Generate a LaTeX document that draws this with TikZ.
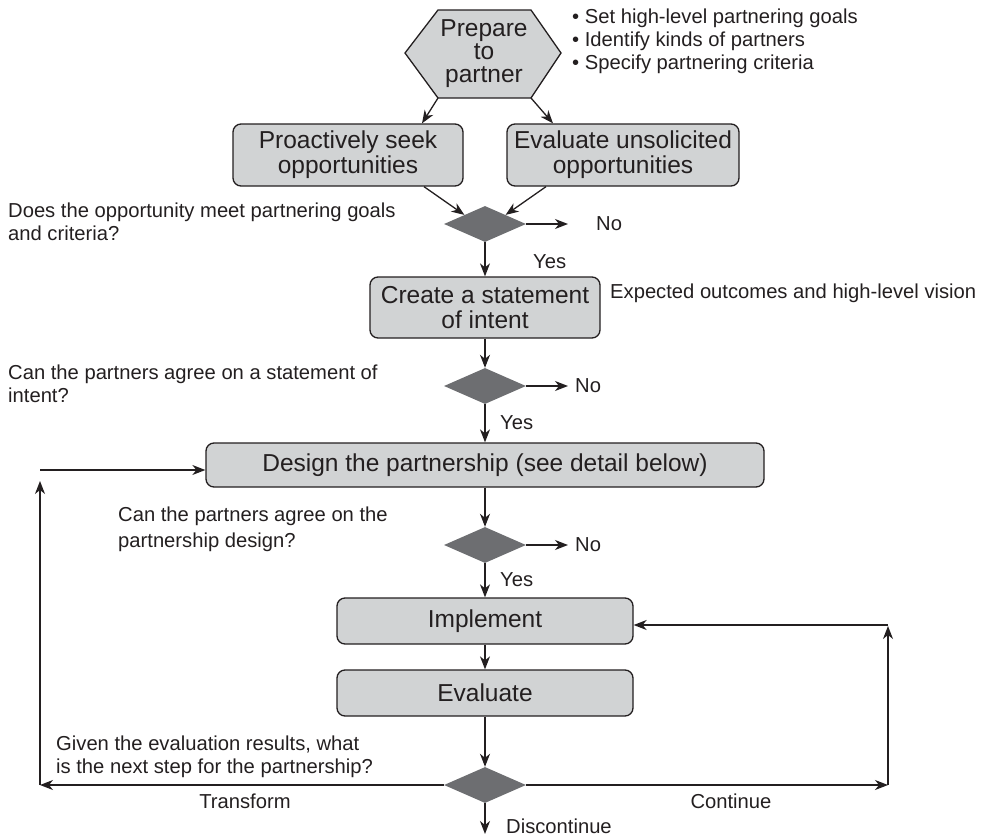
\documentclass[tikz,border=0pt]{standalone}
\usepackage{fontspec}
\setmainfont{Liberation Sans}
\usetikzlibrary{shapes.geometric,arrows.meta}
\definecolor{boxfill}{HTML}{D1D3D4}
\definecolor{dfill}{HTML}{6D6E71}
\definecolor{ink}{HTML}{231F20}
\tikzset{
  procbox/.style={draw=ink, line width=1.3pt, fill=boxfill, rounded corners=8pt, inner sep=0pt, align=center, text=ink, font=\fontsize{24.5}{25}\selectfont},
  decis/.style={diamond, fill=dfill, draw=none, inner sep=0pt, minimum width=82pt, minimum height=36pt},
  note/.style={text=ink, align=left, inner sep=0pt, font=\fontsize{20.2}{23}\selectfont},
  arr/.style={draw=ink, line width=1.3pt, -{Stealth[length=13pt,width=10pt,inset=4pt]}},
  ln/.style={draw=ink, line width=1.3pt}
}
\begin{document}
\begin{tikzpicture}[x=1pt,y=-1pt]
\useasboundingbox (0,0) rectangle (991,838);
% hexagon
\coordinate (h1) at (438,10);
\coordinate (h2) at (531,10);
\coordinate (h3) at (561,53);
\coordinate (h4) at (531,98);
\coordinate (h5) at (438,98);
\coordinate (h6) at (405,53);
\draw[draw=ink, line width=1.3pt, fill=boxfill] (h1) -- (h2) -- (h3) -- (h4) -- (h5) -- (h6) -- cycle;
\node[text=ink, align=center, inner sep=0pt, font=\fontsize{24.5}{23}\selectfont] (prep) at (484,54) {Prepare\\to\\partner};
\node[note, anchor=west] (bul) at (572,41) {• Set high-level partnering goals\\• Identify kinds of partners\\• Specify partnering criteria};

\node[procbox, minimum width=230pt, minimum height=62pt] (b1) at (348,155) {Proactively seek\\opportunities};
\node[procbox, minimum width=232pt, minimum height=62pt] (b2) at (623,155) {Evaluate unsolicited\\opportunities};
\draw[arr] (h5) -- ([xshift=74]b1.north);
\draw[arr] (h4) -- ([xshift=-70]b2.north);

\node[decis] (d1) at (485,224) {};
\draw[arr] ([xshift=76]b1.south) -- (d1.north west);
\draw[arr] ([xshift=-77]b2.south) -- (d1.north east);
\coordinate (n1) at (568,224);
\draw[arr] (d1.east) -- (n1);
\node[note, anchor=west] (no1) at (596,224) {No};
\node[note, anchor=west] (q1) at (8,221.5) {Does the opportunity meet partnering goals\\and criteria?};

\node[procbox, minimum width=230pt, minimum height=61pt] (b3) at (485,307.5) {Create a statement\\of intent};
\draw[arr] (d1.south) -- (b3.north);
\node[note, anchor=west] (y1) at (533,262) {Yes};
\node[note, anchor=west] (exp) at (610,293) {Expected outcomes and high-level vision};

\node[decis] (d2) at (485,386) {};
\draw[arr] (b3.south) -- (d2.north);
\coordinate (n2) at (568,386);
\draw[arr] (d2.east) -- (n2);
\node[note, anchor=west] (no2) at (575,386) {No};
\node[note, anchor=west] (q2) at (8,383.5) {Can the partners agree on a statement of\\intent?};

\node[procbox, minimum width=558pt, minimum height=44pt] (b4) at (485,465) {Design the partnership (see detail below)};
\draw[arr] (d2.south) -- (b4.north);
\node[note, anchor=west] (y2) at (500,423) {Yes};

\node[decis] (d3) at (485,545) {};
\draw[arr] (b4.south) -- (d3.north);
\coordinate (n3) at (568,545);
\draw[arr] (d3.east) -- (n3);
\node[note, anchor=west] (no3) at (575,545) {No};
\node[note, anchor=west, font=\fontsize{20.2}{26}\selectfont] (q3) at (118,529) {Can the partners agree on the\\partnership design?};

\node[procbox, minimum width=296pt, minimum height=46pt] (b5) at (485,621) {Implement};
\draw[arr] (d3.south) -- (b5.north);
\node[note, anchor=west] (y3) at (500,580) {Yes};

\node[procbox, minimum width=296pt, minimum height=46pt] (b6) at (485,693) {Evaluate};
\draw[arr] (b5.south) -- (b6.north);

\node[decis] (d4) at (485,785) {};
\draw[arr] (b6.south) -- (d4.north);
\node[note, anchor=west] (q4) at (56,756.5) {Given the evaluation results, what\\is the next step for the partnership?};

% transform loop
\coordinate (tl) at (40,785);
\coordinate (tu) at (40,481);
\coordinate (tt) at (40,470);
\draw[arr] (d4.west) -- (tl);
\draw[arr] (tl) -- (tu);
\draw[arr] (tt) -- (tt -| b4.west);
\node[note] (tr) at (245,801) {Transform};

% continue loop
\coordinate (cr) at (888,785);
\coordinate (cu) at (888,626);
\coordinate (ct) at (888,625);
\draw[arr] (d4.east) -- (cr);
\draw[arr] (cr) -- (cu);
\draw[arr] (ct) -- (ct -| b5.east);
\node[note] (co) at (731,801) {Continue};

% discontinue
\coordinate (dd) at (485,834);
\draw[arr] (d4.south) -- (dd);
\node[note, anchor=west] (dis) at (506,826) {Discontinue};
\end{tikzpicture}
\end{document}
